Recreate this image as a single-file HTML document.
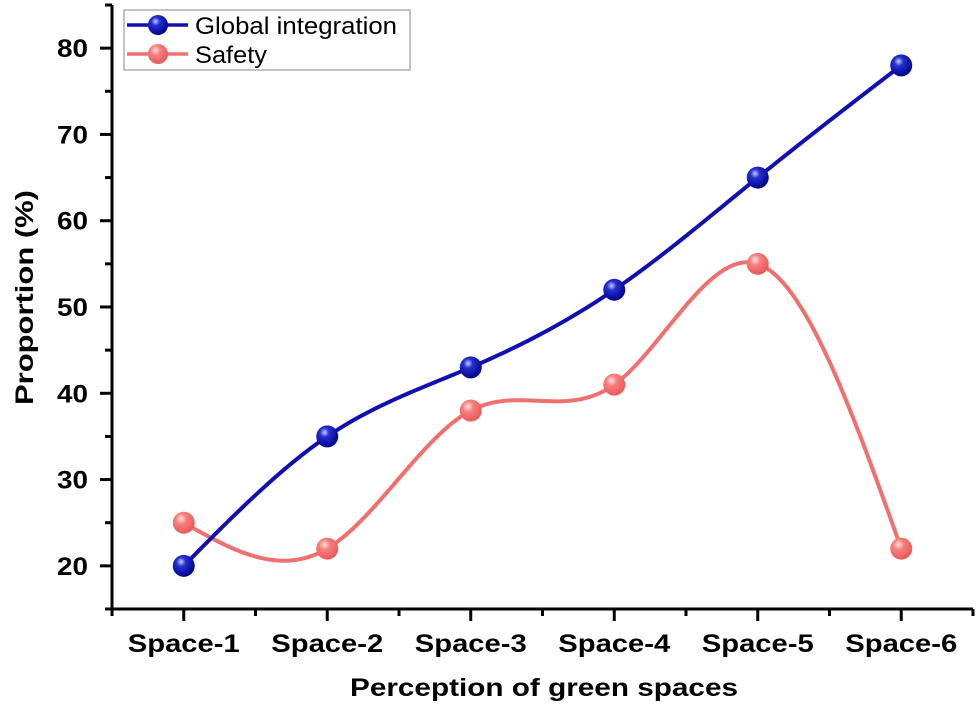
<!DOCTYPE html>
<html><head><meta charset="utf-8"><style>
body{margin:0;background:#fff}
svg{display:block;font-family:"Liberation Sans",Arial,sans-serif}
</style></head><body>
<svg id="chart" width="980" height="705" viewBox="0 0 980 705">
<defs>
<radialGradient id="gBlue" cx="0.38" cy="0.32" r="0.7">
<stop offset="0" stop-color="#c8ccff"/><stop offset="0.3" stop-color="#2430d0"/><stop offset="1" stop-color="#00008a"/></radialGradient>
<radialGradient id="gRed" cx="0.38" cy="0.32" r="0.7">
<stop offset="0" stop-color="#ffe4e4"/><stop offset="0.35" stop-color="#f77e7e"/><stop offset="1" stop-color="#e85858"/></radialGradient>
</defs>
<g id="axes"></g>
<g id="series"></g>
<g>
<rect x="124" y="10" width="286" height="60" fill="#fff" stroke="#888" stroke-width="1"/>
<line x1="127" y1="25" x2="188" y2="25" stroke="#1010b0" stroke-width="3.5"/>
<circle cx="158" cy="25" r="10" fill="url(#gBlue)"/>
<text x="195" y="34" font-size="24" textLength="202" lengthAdjust="spacingAndGlyphs" fill="#000">Global integration</text>
<line x1="127" y1="54" x2="188" y2="54" stroke="#f07070" stroke-width="3.5"/>
<circle cx="158" cy="54" r="10" fill="url(#gRed)"/>
<text x="195" y="63" font-size="24" textLength="72" lengthAdjust="spacingAndGlyphs" fill="#000">Safety</text>
</g>
<text x="350" y="696" font-size="25" font-weight="bold" textLength="388" lengthAdjust="spacingAndGlyphs">Perception of green spaces</text>
<text transform="translate(33,405) rotate(-90)" font-size="25" font-weight="bold" textLength="215" lengthAdjust="spacingAndGlyphs">Proportion (%)</text>
</svg>
<script>
const categories=["Space-1","Space-2","Space-3","Space-4","Space-5","Space-6"];
const globalIntegration=[20,35,43,52,65,78];
const safety=[25,22,38,41,55,22];
const yTicks=[20,30,40,50,60,70,80];
const yMin=15,yMax=85;
const L=112,R=973,T=5,B=609;
const NS="http://www.w3.org/2000/svg";
const step=(R-L)/categories.length;
function xs(i){return L+step*(i+0.5);}
function ys(v){return B-(v-yMin)/(yMax-yMin)*(B-T);}
function mk(tag,attrs,parent){const e=document.createElementNS(NS,tag);for(const k in attrs)e.setAttribute(k,attrs[k]);parent.appendChild(e);return e;}
const ax=document.getElementById('axes');
const yl=mk('line',{x1:L,y1:T,x2:L,y2:B,stroke:'#000','stroke-width':3},ax);


const xl=mk('line',{x1:L,y1:B,x2:R,y2:B,stroke:'#000','stroke-width':3},ax);


for(let v=yMin;v<=yMax;v+=5){
  const major=yTicks.includes(v);
  mk('line',{x1:L-(major?12:7),y1:ys(v),x2:L,y2:ys(v),stroke:'#000','stroke-width':3},ax);
}
yTicks.forEach(v=>{
  const t=mk('text',{x:88,y:ys(v)+9,'text-anchor':'end','font-size':25,'font-weight':'bold',textLength:31,lengthAdjust:'spacingAndGlyphs'},ax);
  t.textContent=v;
  
  
});
for(let i=0;i<=categories.length;i++){
  mk('line',{x1:L+step*i,y1:B,x2:L+step*i,y2:B+7,stroke:'#000','stroke-width':3},ax);
}
categories.forEach((c,i)=>{
  mk('line',{x1:xs(i),y1:B,x2:xs(i),y2:B+12,stroke:'#000','stroke-width':3},ax);
  const t=mk('text',{x:xs(i)-56,y:B+43,'font-size':25,'font-weight':'bold',textLength:112,lengthAdjust:'spacingAndGlyphs'},ax);
  t.textContent=c;
  
  
});
function spline(vals){
  const n=vals.length,M=new Array(n).fill(0);
  const a=[],b=[],c=[],d=[];
  for(let i=1;i<n-1;i++){a.push(1);b.push(4);c.push(1);d.push(6*(vals[i+1]-2*vals[i]+vals[i-1]));}
  const m=d.length;
  for(let i=1;i<m;i++){const w=a[i]/b[i-1];b[i]-=w*c[i-1];d[i]-=w*d[i-1];}
  const s=new Array(m);
  for(let i=m-1;i>=0;i--){s[i]=(d[i]-(i<m-1?c[i]*s[i+1]:0))/b[i];}
  for(let i=0;i<m;i++)M[i+1]=s[i];
  let p='';
  for(let i=0;i<n-1;i++){
    for(let k=0;k<=30;k++){
      const t=k/30;
      const v=M[i]*(1-t)**3/6+M[i+1]*t**3/6+(vals[i]-M[i]/6)*(1-t)+(vals[i+1]-M[i+1]/6)*t;
      p+=(p?'L':'M')+xs(i+t).toFixed(2)+','+ys(v).toFixed(2);
    }
  }
  return p;
}
const sg=document.getElementById('series');
function draw(vals,color,grad,name){
  const g=mk('g',{},sg);
  
  
  mk('path',{d:spline(vals),fill:'none',stroke:color,'stroke-width':4},g);
  vals.forEach((v,i)=>{
    const c=mk('circle',{cx:xs(i),cy:ys(v),r:11,fill:'url(#'+grad+')'},g);
    
    
  });
}
draw(safety,'#f07070','gRed','safety');
draw(globalIntegration,'#1010b0','gBlue','global-integration');
</script>
</body></html>
